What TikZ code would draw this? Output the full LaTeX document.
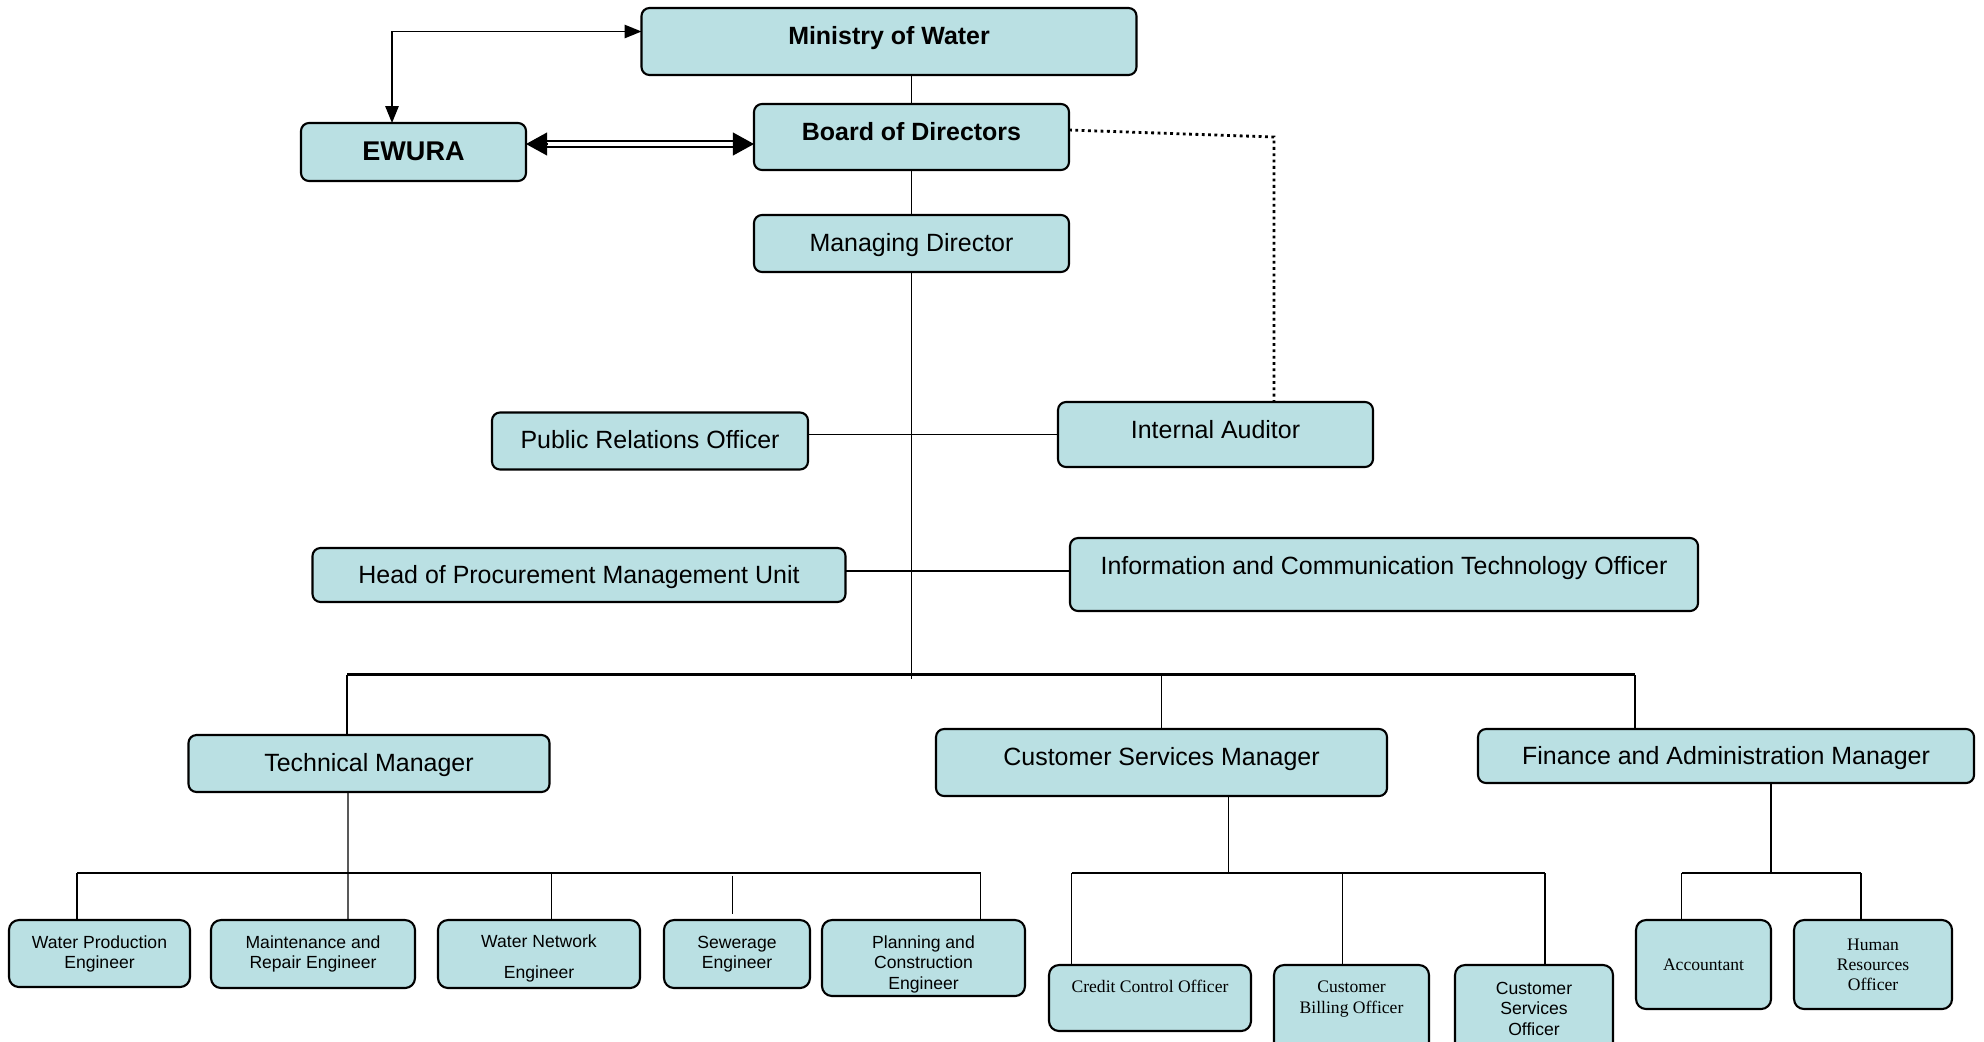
\documentclass[tikz,border=0pt]{standalone}
\usepackage{fontspec}
\setmainfont{Liberation Sans}
\newfontfamily\serifface{Liberation Serif}
\usetikzlibrary{arrows.meta}
\definecolor{boxblue}{RGB}{186,224,227}
\newcommand\orgfont{\fontsize{7.1}{8.5}\selectfont}
\newcommand\subfont{\fontsize{5}{5.7}\selectfont}
\begin{document}
\begin{tikzpicture}[inner sep=0pt,outer sep=0pt,line width=.4pt,
orgbox/.style={draw,rectangle,rounded corners=.08cm,fill=boxblue,line width=.6pt,align=center,font=\orgfont,text height=6.3pt,text depth=1.5pt},
subbox/.style={draw,rectangle,rounded corners=.1cm,fill=boxblue,line width=.6pt,align=center,font=\subfont},
bus/.style={line width=.6pt},
tip/.style={{Triangle[length=4.8pt,width=3.8pt]}-{Triangle[length=4.8pt,width=3.8pt]}},
bigtip/.style={-{Triangle[length=6pt,width=6.5pt]}}]
\useasboundingbox (0,0) rectangle (19.84,-10.41);
% top level
\draw (8.89,-.415) node[orgbox,minimum width=4.95cm,minimum height=.67cm,font=\orgfont\bfseries,text depth=4.55pt] (mow) {Ministry of Water};
\draw (4.135,-1.52) node[orgbox,minimum width=2.25cm,minimum height=.58cm,font=\fontsize{7.7}{9}\selectfont\bfseries,text height=6.3pt,text depth=1.6pt] (ewura) {EWURA};
\draw (9.115,-1.37) node[orgbox,minimum width=3.15cm,minimum height=.66cm,font=\orgfont\bfseries,text depth=4.45pt] (board) {Board of Directors};
\draw (9.115,-2.435) node[orgbox,minimum width=3.15cm,minimum height=.57cm] (md) {Managing Director};
% staff units
\draw (6.50,-4.41) node[orgbox,minimum width=3.16cm,minimum height=.57cm,text depth=2.15pt] (pro) {Public Relations Officer};
\draw (12.155,-4.345) node[orgbox,minimum width=3.15cm,minimum height=.65cm,text depth=4pt] (ia) {Internal Auditor};
\draw (5.79,-5.75) node[orgbox,minimum width=5.33cm,minimum height=.54cm] (hpmu) {Head of Procurement Management Unit};
\draw (13.84,-5.745) node[orgbox,minimum width=6.28cm,minimum height=.73cm,text depth=6.25pt] (ict) {Information and Communication Technology Officer};
% managers
\draw (3.69,-7.635) node[orgbox,minimum width=3.61cm,minimum height=.57cm] (tm) {Technical Manager};
\draw (11.615,-7.625) node[orgbox,minimum width=4.51cm,minimum height=.67cm,text depth=4.45pt] (csm) {Customer Services Manager};
\draw (17.26,-7.56) node[orgbox,minimum width=4.96cm,minimum height=.54cm] (fam) {Finance and Administration Manager};
% sections
\draw (.995,-9.535) node[subbox,minimum width=1.81cm,minimum height=.67cm] (wpe) {Water Production\\Engineer};
\draw (3.13,-9.54) node[subbox,minimum width=2.04cm,minimum height=.68cm] (mre) {Maintenance and\\Repair Engineer};
\draw (5.39,-9.54) node[subbox,minimum width=2.02cm,minimum height=.68cm,text height=.53cm,text depth=.05cm] (wne) {Water Network\\[3pt]Engineer};
\draw (7.37,-9.54) node[subbox,minimum width=1.46cm,minimum height=.68cm] (se) {Sewerage\\Engineer};
\draw (9.235,-9.58) node[subbox,minimum width=2.03cm,minimum height=.76cm,text height=.67cm,text depth=.05cm] (pce) {Planning and\\Construction\\Engineer};
\draw (11.50,-9.98) node[subbox,minimum width=2.02cm,minimum height=.66cm,font=\subfont\serifface,text height=4.1pt,text depth=7.3pt] (cco) {Credit Control Officer};
\draw (13.515,-9.65) node[subbox,anchor=north,minimum width=1.55cm,font=\subfont\serifface,text height=.48cm,text depth=.5cm] (cbo) {Customer\\Billing Officer};
\draw (15.34,-9.65) node[subbox,anchor=north,minimum width=1.58cm,text height=.70cm,text depth=.4cm] (cso) {Customer\\Services\\Officer};
\draw (17.035,-9.645) node[subbox,minimum width=1.35cm,minimum height=.89cm,font=\subfont\serifface] (acc) {Accountant};
\draw (18.73,-9.645) node[subbox,minimum width=1.58cm,minimum height=.89cm,font=\subfont\serifface] (hro) {Human\\Resources\\Officer};
% links at the top
\draw[tip] ([xshift=-.215cm]ewura.north) |- ([yshift=.1cm]mow.west);
\coordinate (e1) at ([yshift=.08cm]ewura.east);
\coordinate (b1) at (board.west |- e1);
\draw[double,double distance=1pt,line width=.6pt,shorten <=5pt,shorten >=5pt] (e1) -- (b1);
\draw[bigtip] ([xshift=6pt]e1) -- (e1);
\draw[bigtip] ([xshift=-6pt]b1) -- (b1);
\draw (board.north) -- (board.north |- mow.south);
\draw (board.south) -- (md.north);
\coordinate (dotc) at (12.74,-1.37);
\draw[densely dotted,line width=.8pt] ([yshift=.07cm]board.east) -- (dotc) -- (dotc |- ia.north);
% spine
\coordinate (mbus) at (9.115,-6.745);
\draw (md.south) -- ([yshift=-.045cm]md.south |- mbus);
\draw (ia.west) -- (ia.west -| pro.east);
\coordinate (h1) at ([yshift=.04cm]hpmu.east);
\draw (h1) -- (h1 -| ict.west);
\draw[bus] ([xshift=-.22cm]tm.north |- mbus) -- ([xshift=-.91cm]fam.north |- mbus);
\foreach \n/\dx in {tm/-.22,csm/0,fam/-.91}
  \draw ([xshift=\dx cm]\n.north) -- ([xshift=\dx cm]\n.north |- mbus);
% lower buses
\coordinate (lbus) at (0,-8.73);
\draw ([xshift=-.21cm]tm.south) -- ([xshift=.35cm]mre.north);
\draw[bus] ([xshift=-.225cm]wpe.north |- lbus) -- ([xshift=.571cm]pce.north |- lbus);
\foreach \n/\dx in {wpe/-.225,wne/.125,pce/.571}
  \draw ([xshift=\dx cm]\n.north) -- ([xshift=\dx cm]\n.north |- lbus);
\draw ([xshift=-.045cm,yshift=-.025cm]se.north |- lbus) -- ([xshift=-.045cm,yshift=.065cm]se.north);
\draw ([xshift=.671cm]csm.south) -- ([xshift=.671cm]csm.south |- lbus);
\draw[bus] ([xshift=-.783cm]cco.north |- lbus) -- ([xshift=.11cm]cso.north |- lbus);
\foreach \n/\dx in {cco/-.783,cbo/-.09,cso/.11}
  \draw ([xshift=\dx cm]\n.north) -- ([xshift=\dx cm]\n.north |- lbus);
\draw ([xshift=.45cm]fam.south) -- ([xshift=.45cm]fam.south |- lbus);
\draw[bus] ([xshift=-.219cm]acc.north |- lbus) -- ([xshift=-.12cm]hro.north |- lbus);
\foreach \n/\dx in {acc/-.219,hro/-.12}
  \draw ([xshift=\dx cm]\n.north) -- ([xshift=\dx cm]\n.north |- lbus);
\end{tikzpicture}
\end{document}
